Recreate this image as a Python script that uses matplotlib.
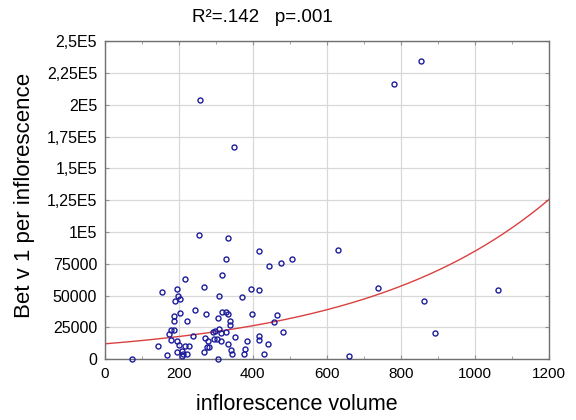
import numpy as np
import matplotlib
matplotlib.use("Agg")
import matplotlib.pyplot as plt
from matplotlib.ticker import FixedLocator, FixedFormatter, MultipleLocator

plt.rcParams['font.family'] = ['Liberation Sans', 'DejaVu Sans']

# data
volume = [855, 782, 257, 348, 255, 333, 417, 631, 328, 505, 475, 444, 318, 218,
          267, 194, 155, 395, 417, 737, 1063, 198, 204, 309, 372, 191, 862, 891,
          243, 204, 274, 318, 328, 333, 397, 465, 188, 306, 187, 221, 338, 338,
          457, 179, 187, 174, 293, 299, 309, 314, 328, 482, 238, 179, 272, 280,
          296, 303, 353, 416, 416, 194, 313, 384, 201, 218, 228, 145, 275, 282,
          334, 441, 379, 342, 209, 196, 267, 211, 222, 169, 344, 375, 429, 661,
          75, 306, 209]
betv1 = [234600, 216000, 204000, 166800, 97400, 95300, 85300, 85900, 78800, 78800,
         75900, 73000, 66000, 63100, 56500, 55200, 52900, 55200, 54500, 56000,
         54500, 50000, 47400, 50000, 48700, 45300, 45800, 20900, 38700, 35900,
         35100, 37400, 37200, 35600, 35100, 34300, 34000, 32500, 30100, 30100,
         30100, 26700, 28800, 23000, 23000, 19400, 21700, 22300, 23600, 20400,
         21500, 21500, 18100, 15200, 16500, 14100, 15700, 15700, 17500, 17800,
         15200, 14400, 13900, 14400, 11000, 10500, 10200, 10200, 9400, 9700,
         11800, 11500, 7900, 7300, 6000, 5200, 5800, 3900, 3700, 3100,
         3900, 3900, 3900, 2100, 0, 0, 2600]

# exponential fit: y = a * exp(b * x)
fit_a = 12000
fit_b = 0.001956

title_text = "R²=.142   p=.001"
x_label = "inflorescence volume"
y_label = "Bet v 1 per inflorescence"
y_ticks = [0, 25000, 50000, 75000, 100000, 125000, 150000, 175000, 200000, 225000, 250000]
y_tick_labels = ["0", "25000", "50000", "75000", "1E5", "1,25E5", "1,5E5",
                 "1,75E5", "2E5", "2,25E5", "2,5E5"]
x_ticks = [0, 200, 400, 600, 800, 1000, 1200]

fig = plt.figure(figsize=(5.76, 4.2), dpi=100)
ax = fig.add_axes([0.1818, 0.145, 0.953 - 0.1818, 0.902 - 0.145])

xs = np.linspace(0, 1200, 300)
ax.plot(xs, fit_a * np.exp(fit_b * xs), color='#d8413f', lw=1.0, zorder=2)
ax.plot(volume, betv1, linestyle='none', marker='o', markersize=3.6,
        markerfacecolor='none', markeredgecolor='#1c1c9c', markeredgewidth=1.0,
        zorder=3, clip_on=False)

ax.set_xlim(0, 1200)
ax.set_ylim(0, 250000)
ax.xaxis.set_major_locator(FixedLocator(x_ticks))
ax.xaxis.set_minor_locator(MultipleLocator(100))
ax.yaxis.set_major_locator(FixedLocator(y_ticks))
ax.yaxis.set_major_formatter(FixedFormatter(y_tick_labels))
ax.grid(True, which='major', color='#d8d8d8', lw=0.9, zorder=0)
ax.set_axisbelow(True)
for s in ax.spines.values():
    s.set_color('#707070')
    s.set_linewidth(1.0)
ax.tick_params(which='both', direction='in', top=True, right=True,
               color='#909090', colors='#909090', labelcolor='black')
ax.tick_params(which='major', length=3)
ax.tick_params(which='minor', length=2)
ax.tick_params(axis='x', pad=6, labelsize=11)
ax.tick_params(axis='y', pad=5.5, labelsize=11.5)

fig.text(262 / 576, 1 - 17 / 420, title_text, ha='center', va='center', fontsize=13.5)
fig.text(297 / 576, 1 - 405 / 420, x_label, ha='center', va='center', fontsize=15.5)
fig.text(25 / 576, 1 - 195 / 420, y_label, ha='center', va='center', fontsize=16,
         rotation=90)

fig.savefig("out.png", dpi=100)
